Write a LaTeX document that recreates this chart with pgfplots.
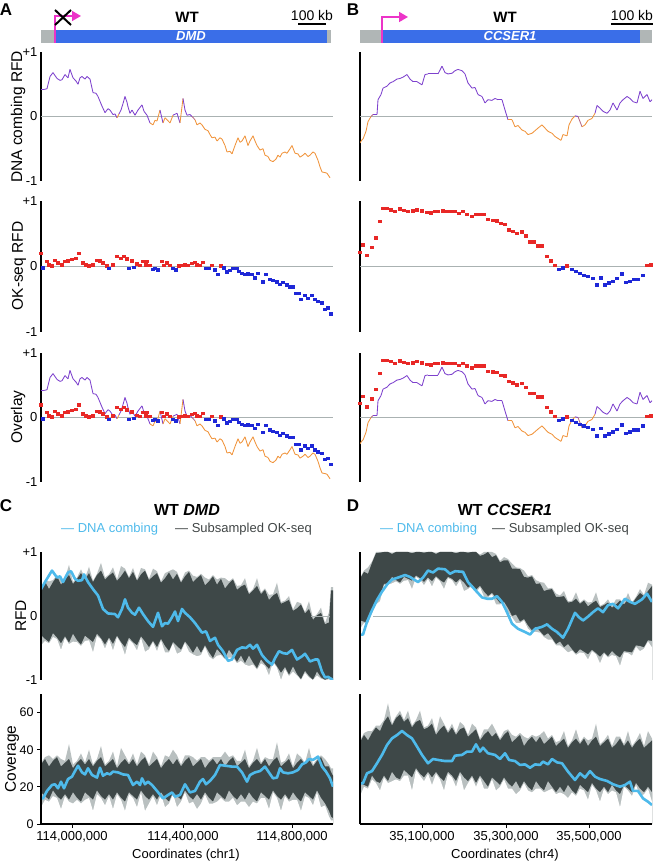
\documentclass[border=0pt]{standalone}
\usepackage{fontspec}
\setmainfont{Liberation Sans}
\usepackage{pgfplots}
\pgfplotsset{compat=1.18}
\usepackage{pgfplotstable}
\usetikzlibrary{arrows.meta}
\newcommand{\fs}[1]{\fontsize{#1}{#1}\selectfont}
\definecolor{cpurple}{RGB}{125,65,205}
\definecolor{corange}{RGB}{240,148,60}
\definecolor{cred}{RGB}{232,40,38}
\definecolor{cblue}{RGB}{30,40,215}
\definecolor{genblue}{RGB}{58,110,232}
\definecolor{gengray}{RGB}{176,182,182}
\definecolor{cmag}{RGB}{236,52,200}
\definecolor{ccyan}{RGB}{78,186,235}
\definecolor{bandcore}{RGB}{62,72,72}
\definecolor{bandfringe}{RGB}{185,192,192}
\definecolor{zerogray}{RGB}{170,178,178}
\definecolor{leggray}{RGB}{65,70,70}
\pgfplotsset{colormap={rfdmap}{color(0cm)=(corange) color(1cm)=(corange) color(1.02cm)=(cpurple) color(2.02cm)=(cpurple)}}

% DNA combing RFD, DMD (x = position along the locus)
\pgfplotstableread{
x y
41 0.42
44 0.42
47 0.43
50 0.62
53 0.68
57 0.59
60 0.56
62 0.57
65 0.65
68 0.60
70 0.73
73 0.60
76 0.55
78 0.50
80 0.60
82 0.62
85 0.58
87 0.62
90 0.58
93 0.37
96 0.36
98 0.31
102 0.16
105 0.06
108 0.12
110 0.10
113 0.03
115 0.04
117 -0.02
119 0.04
121 0.10
123 0.20
125 0.31
127 0.22
128 0.15
130 0.05
132 0.10
135 0.02
138 0.10
140 0.14
142 0.18
144 0.08
147 0.02
150 -0.10
153 -0.13
155 -0.06
157 -0.07
160 0.10
163 -0.10
165 -0.02
167 -0.05
170 -0.10
173 0.02
177 0.05
180 -0.10
183 0.28
185 0.10
187 0.02
190 0.03
192 0.00
195 -0.05
197 -0.13
200 -0.10
202 -0.13
205 -0.20
208 -0.22
210 -0.28
212 -0.33
215 -0.32
217 -0.38
220 -0.33
222 -0.35
225 -0.45
227 -0.55
230 -0.54
232 -0.58
235 -0.45
238 -0.33
240 -0.40
242 -0.38
245 -0.30
248 -0.45
250 -0.38
253 -0.30
255 -0.38
257 -0.45
260 -0.52
263 -0.50
265 -0.60
268 -0.62
270 -0.68
273 -0.70
276 -0.66
278 -0.60
280 -0.63
282 -0.57
285 -0.55
287 -0.57
290 -0.50
292 -0.45
295 -0.57
298 -0.58
300 -0.63
303 -0.60
305 -0.57
308 -0.62
310 -0.60
313 -0.55
315 -0.57
318 -0.68
320 -0.78
322 -0.86
325 -0.87
327 -0.88
330 -0.95
}\combA

% OK-seq RFD, DMD
\pgfplotstableread{
x y
41 0.20
43 -0.02
47 0.08
49 0.03
52 0.01
55 0.10
58 0.06
62 0.03
65 0.08
68 0.09
72 0.11
76 0.13
79 0.20
83 0.06
86 0.03
89 0.01
93 0.03
97 0.10
100 0.09
103 0.06
107 0.01
109 -0.03
113 0.03
117 0.16
121 0.13
124 0.16
127 0.12
129 -0.03
132 0.09
134 -0.01
137 0.04
140 0.02
143 0.08
146 0.03
147 0.08
150 0.02
153 -0.04
155 -0.03
158 -0.05
162 0.08
164 0.02
167 0.06
170 0.02
173 -0.03
176 -0.05
179 0.01
182 0.02
185 0.03
188 0.02
192 0.05
195 0.07
197 0.03
200 0.02
203 0.07
206 -0.03
209 -0.03
212 0.02
215 -0.05
218 -0.12
221 0.01
224 -0.02
227 -0.08
230 -0.06
233 -0.03
237 -0.03
239 -0.07
242 -0.10
245 -0.12
248 -0.11
252 -0.12
255 -0.17
258 -0.10
263 -0.23
266 -0.12
270 -0.19
273 -0.21
277 -0.23
280 -0.27
283 -0.24
287 -0.28
290 -0.31
293 -0.31
296 -0.41
299 -0.41
301 -0.50
305 -0.44
308 -0.48
312 -0.44
315 -0.50
318 -0.53
322 -0.55
325 -0.65
328 -0.63
331 -0.72
}\okA

% DNA combing RFD, CCSER1
\pgfplotstableread{
x y
360 -0.41
362 -0.36
363 -0.35
366 -0.23
368 -0.08
371 0.00
373 0.03
377 0.03
378 0.26
381 0.34
383 0.44
387 0.47
390 0.52
393 0.54
397 0.58
400 0.59
403 0.61
407 0.65
410 0.58
413 0.54
417 0.54
422 0.49
425 0.65
428 0.66
433 0.66
438 0.66
442 0.78
445 0.68
448 0.66
452 0.67
455 0.71
458 0.73
462 0.71
465 0.66
468 0.52
472 0.44
475 0.45
478 0.34
482 0.31
485 0.21
488 0.26
492 0.25
495 0.28
498 0.26
502 0.26
505 0.10
508 -0.05
512 -0.05
515 -0.16
518 -0.14
522 -0.21
525 -0.23
528 -0.28
532 -0.26
535 -0.22
538 -0.18
542 -0.13
545 -0.18
548 -0.23
552 -0.26
555 -0.31
558 -0.34
561 -0.37
563 -0.28
567 -0.30
569 -0.13
572 -0.04
575 0.01
578 0.00
582 -0.16
585 -0.13
588 -0.06
592 -0.03
595 0.05
597 0.17
600 0.13
603 0.08
607 0.05
610 0.10
613 0.21
617 0.10
620 0.21
623 0.26
627 0.31
630 0.28
633 0.23
637 0.21
640 0.39
643 0.28
647 0.34
650 0.23
652 0.26
}\combB

% OK-seq RFD, CCSER1
\pgfplotstableread{
x y
360 0.22
363 0.33
367 0.17
372 0.29
376 0.44
380 0.69
383 0.89
387 0.89
391 0.87
395 0.84
400 0.88
404 0.86
408 0.84
413 0.85
417 0.87
422 0.85
427 0.83
431 0.82
435 0.84
438 0.84
443 0.85
447 0.84
451 0.84
455 0.84
459 0.81
463 0.84
467 0.80
472 0.77
476 0.80
480 0.80
484 0.80
488 0.72
493 0.71
497 0.70
501 0.66
505 0.65
509 0.56
513 0.54
517 0.51
522 0.53
526 0.47
530 0.38
534 0.38
538 0.32
542 0.32
547 0.16
551 0.09
555 0.02
559 -0.04
563 -0.02
567 0.01
572 -0.04
576 -0.07
580 -0.10
584 -0.13
588 -0.15
593 -0.18
597 -0.28
601 -0.17
605 -0.28
609 -0.25
613 -0.22
617 -0.18
622 -0.11
626 -0.24
630 -0.22
634 -0.19
638 -0.19
643 -0.13
647 0.02
651 0.03
}\okB

% C: DNA combing RFD (smoothed)
\pgfplotstableread{
x y
41 0.42
45 0.53
52 0.71
57 0.60
60 0.62
63 0.53
68 0.68
71 0.70
75 0.58
78 0.55
82 0.56
84 0.65
88 0.53
93 0.42
98 0.32
103 0.11
108 0.04
115 0.03
118 -0.02
122 0.11
125 0.26
128 0.13
132 0.05
135 0.02
139 0.13
143 0.03
148 -0.08
153 -0.17
158 0.05
162 -0.16
165 -0.11
168 -0.12
172 -0.02
175 0.07
178 -0.08
182 0.11
185 0.05
190 -0.02
195 -0.11
202 -0.26
206 -0.24
210 -0.39
215 -0.34
218 -0.45
223 -0.55
228 -0.70
232 -0.68
237 -0.53
242 -0.49
246 -0.50
250 -0.45
253 -0.51
257 -0.45
262 -0.61
267 -0.70
272 -0.76
275 -0.66
279 -0.55
283 -0.58
287 -0.59
292 -0.53
297 -0.68
302 -0.63
305 -0.59
310 -0.71
315 -0.68
318 -0.68
322 -0.87
325 -0.96
328 -0.95
333 -1.00
}\cR

% C: subsampled OK-seq RFD envelope (fringe/core upper, core/fringe lower)
\pgfplotstableread{
x fu cu cl fl
41 -1 -1 -1 -1
41 .44 .42 -.30 -.46
45 .56 .54 -.36 -.39
49 .54 .42 -.41 -.43
53 .56 .53 -.27 -.33
57 .64 .62 -.34 -.36
61 .57 .49 -.43 -.53
65 .59 .57 -.32 -.34
69 .80 .64 -.42 -.44
73 .53 .50 -.28 -.40
77 .60 .58 -.38 -.41
81 .73 .67 -.45 -.47
85 .59 .57 -.31 -.39
89 .77 .67 -.36 -.38
93 .55 .53 -.41 -.57
97 .66 .64 -.28 -.31
101 .83 .71 -.35 -.37
105 .60 .57 -.45 -.51
109 .65 .63 -.34 -.36
113 .76 .68 -.44 -.54
117 .57 .55 -.31 -.33
121 .78 .62 -.41 -.43
125 .74 .71 -.49 -.61
129 .61 .59 -.34 -.37
133 .75 .69 -.41 -.43
137 .57 .55 -.46 -.54
141 .75 .65 -.32 -.34
145 .73 .71 -.40 -.56
149 .58 .56 -.49 -.52
153 .74 .62 -.39 -.41
157 .70 .67 -.49 -.55
161 .54 .52 -.36 -.38
165 .67 .59 -.47 -.57
169 .70 .68 -.55 -.57
173 .73 .57 -.41 -.43
177 .69 .66 -.47 -.59
181 .54 .52 -.53 -.56
185 .68 .62 -.40 -.42
189 .71 .69 -.48 -.56
193 .63 .53 -.58 -.60
197 .61 .59 -.47 -.63
201 .66 .64 -.58 -.61
205 .60 .48 -.46 -.48
209 .57 .54 -.57 -.63
213 .64 .62 -.66 -.68
217 .57 .49 -.52 -.62
221 .60 .58 -.59 -.61
225 .59 .43 -.66 -.68
229 .54 .51 -.53 -.65
233 .59 .57 -.62 -.65
237 .47 .41 -.72 -.74
241 .48 .46 -.62 -.70
245 .59 .49 -.74 -.76
249 .36 .34 -.62 -.78
253 .42 .40 -.73 -.76
257 .59 .47 -.82 -.84
261 .37 .34 -.68 -.74
265 .43 .41 -.76 -.78
269 .33 .25 -.83 -.93
273 .34 .32 -.70 -.72
277 .52 .36 -.79 -.81
281 .22 .19 -.89 -1.00
285 .24 .22 -.80 -.83
289 .31 .25 -.92 -.94
293 .10 .08 -.79 -.87
297 .22 .12 -.91 -.93
301 .20 .18 -.99 -1.00
305 .06 .04 -.86 -.89
309 .23 .11 -.94 -.96
313 -.03 -.06 -1.00 -1.00
317 .03 .01 -.87 -.93
321 .13 .05 -.96 -.98
325 -.11 -.13 -1.00 -1.00
329 .06 -.10 -.97 -.99
331 .45 .40 -1.00 -1.00
333 .45 .40 -1.00 -1.00
333 -1 -1 -1 -1
}\bandCR

% C: DNA combing coverage
\pgfplotstableread{
x y
41 13.8
43 13.8
47 17.8
52 21.0
55 21.4
58 19.2
61 22.8
64 19.2
68 24.2
72 25.5
75 28.5
78 31.4
82 27.8
85 26.7
88 30.0
92 26.4
97 25.0
100 30.3
103 26.0
107 27.3
110 26.7
113 28.2
118 27.8
123 26.7
128 26.4
133 21.0
137 22.8
140 21.0
142 24.6
145 21.4
148 22.8
152 21.0
157 17.8
163 13.8
168 15.6
172 17.0
175 14.7
180 15.6
185 21.4
190 17.0
195 17.8
200 22.8
203 24.2
206 21.4
210 23.2
215 26.4
220 31.8
225 31.4
232 30.9
237 30.9
242 27.8
247 22.8
250 26.4
255 27.8
260 28.5
265 30.9
268 28.5
273 24.6
277 25.0
280 30.0
283 27.8
288 27.3
293 27.8
298 29.1
302 32.1
306 33.2
309 35.0
313 34.5
318 36.3
322 30.9
326 28.2
330 24.6
333 20.1
}\cC

% C: subsampled OK-seq coverage envelope
\pgfplotstableread{
x fu cu cl fl
41 0 0 0 0
41 33 32 17 9
45 36 35 15 13
49 37 31 13 12
53 35 34 18 15
57 37 36 15 14
61 35 31 13 8
65 34 33 16 15
69 43 35 13 12
73 32 30 17 11
77 34 33 14 13
81 38 35 12 11
85 33 32 17 13
89 40 35 15 14
93 32 31 13 7
97 35 34 18 16
101 42 36 15 14
105 32 31 13 10
109 34 33 16 15
113 39 35 13 8
117 31 30 17 16
121 41 33 14 13
125 37 35 12 7
129 33 32 17 16
133 38 35 15 14
137 32 31 13 9
141 39 34 18 17
145 37 36 15 7
149 32 31 13 11
153 39 33 16 15
157 36 35 13 10
161 31 30 17 16
165 37 33 14 9
169 36 35 12 11
173 40 32 17 16
177 37 35 15 9
181 32 31 13 12
185 37 34 18 17
189 37 36 15 11
193 36 31 13 12
197 34 33 16 8
201 36 35 13 11
205 36 30 17 16
209 34 33 14 11
213 36 35 12 11
217 36 32 17 12
221 36 35 15 14
225 39 31 13 12
229 36 34 18 12
233 37 36 15 14
237 34 31 13 10
241 34 33 16 12
245 40 35 13 12
249 31 30 17 9
253 34 33 14 12
257 41 35 12 11
261 33 32 17 14
265 36 35 15 14
269 35 31 13 8
273 35 34 18 17
277 44 36 15 14
281 33 31 13 7
285 34 33 16 15
289 38 35 13 12
293 31 30 17 13
297 38 33 14 13
301 36 35 12 7
305 33 32 17 15
309 41 35 15 14
313 32 31 13 10
317 35 34 18 17
321 37 36 14 9
325 35 31 11 10
329 32 31 7 4
331 30 28 4 2
333 30 26 3 2
333 0 0 0 0
}\bandCC

% D: DNA combing RFD (smoothed)
\pgfplotstableread{
x y
360 -0.29
363 -0.29
367 -0.09
372 0.09
377 0.25
382 0.38
387 0.49
392 0.57
398 0.60
405 0.64
410 0.61
415 0.56
418 0.53
423 0.60
428 0.71
433 0.68
438 0.74
445 0.73
450 0.66
455 0.70
463 0.69
468 0.53
475 0.41
482 0.29
487 0.27
492 0.27
497 0.31
502 0.22
507 0.06
512 -0.12
518 -0.20
525 -0.25
530 -0.29
535 -0.20
542 -0.17
547 -0.13
552 -0.20
557 -0.25
563 -0.34
568 -0.20
575 0.05
579 -0.02
583 -0.07
588 -0.01
593 0.06
598 0.12
603 0.06
608 0.17
613 0.19
618 0.12
625 0.27
630 0.22
635 0.19
642 0.26
647 0.35
652 0.22
}\dR

% D: subsampled OK-seq RFD envelope
\pgfplotstableread{
x fu cu cl fl
360 -1 -1 -1 -1
360 .60 .58 -.07 -.20
364 .71 .69 -.09 -.11
368 .76 .66 -.10 -.12
372 .85 .83 .09 .04
376 1 .98 .20 .18
380 1 .99 .31 .23
384 1 1 .50 .48
388 1 1 .51 .49
392 .99 .97 .61 .51
396 1 1 .56 .54
400 1 1 .52 .50
404 1 1 .61 .55
408 1 1 .58 .56
412 1 .98 .55 .42
416 1 1 .63 .61
420 1 1 .59 .57
424 1 .99 .53 .48
428 1 1 .60 .58
432 1 1 .54 .46
436 .99 .97 .62 .60
440 1 1 .56 .54
444 1 1 .52 .42
448 1 1 .61 .59
452 1 1 .58 .56
456 1 .98 .52 .46
460 1 1 .58 .56
464 1 1 .52 .39
468 1 .99 .44 .42
472 1 1 .49 .47
476 1 1 .41 .36
480 .96 .94 .47 .45
484 1 .96 .38 .30
488 1 1 .31 .29
492 1 .92 .36 .34
496 .97 .95 .28 .18
500 .86 .84 .20 .18
504 .92 .87 .22 .20
508 .89 .87 .12 .06
512 .82 .74 .00 -.02
516 .76 .74 .02 -.11
520 .75 .73 -.09 -.11
524 .71 .61 -.05 -.07
528 .62 .60 -.15 -.20
532 .64 .62 -.23 -.25
536 .56 .50 -.17 -.25
540 .53 .51 -.24 -.26
544 .52 .39 -.31 -.33
548 .43 .41 -.27 -.37
552 .44 .42 -.35 -.37
556 .35 .30 -.44 -.46
560 .32 .30 -.40 -.46
564 .39 .31 -.49 -.51
568 .23 .21 -.44 -.57
572 .24 .22 -.52 -.54
576 .37 .27 -.59 -.61
580 .21 .19 -.52 -.57
584 .26 .24 -.56 -.58
588 .21 .15 -.60 -.68
592 .22 .20 -.53 -.55
596 .37 .24 -.58 -.60
600 .16 .14 -.64 -.74
604 .19 .17 -.57 -.59
608 .26 .21 -.63 -.65
612 .15 .13 -.55 -.61
616 .26 .18 -.61 -.63
620 .26 .24 -.65 -.78
624 .20 .18 -.55 -.57
628 .36 .26 -.56 -.58
632 .21 .19 -.57 -.62
636 .30 .28 -.46 -.48
640 .42 .36 -.47 -.55
644 .33 .31 -.49 -.51
648 .52 .39 -.38 -.40
652 .49 .47 -.39 -.49
652 -1 -1 -1 -1
}\bandDR

% D: DNA combing coverage
\pgfplotstableread{
x y
360 21.9
363 21.9
367 27.3
372 28.5
377 32.7
382 37.2
387 42.5
392 46.1
397 47.9
402 50.1
407 47.9
412 46.1
417 41.7
422 37.2
428 32.7
433 35.0
438 34.5
445 33.9
452 33.9
455 36.8
462 37.2
467 39.0
472 39.0
476 42.9
480 39.0
483 41.1
488 38.1
495 37.2
500 35.0
505 38.1
509 34.5
515 33.9
520 31.8
525 32.1
530 30.3
535 32.1
540 31.8
543 33.6
548 32.1
552 35.0
557 33.2
562 32.7
568 28.2
575 23.7
580 27.3
585 25.0
590 28.5
595 25.5
600 24.2
607 23.2
613 21.4
620 20.1
625 21.0
630 22.8
633 17.8
638 17.8
643 13.8
648 12.0
652 10.2
}\dC

% D: subsampled OK-seq coverage envelope
\pgfplotstableread{
x fu cu cl fl
360 0 0 0 0
360 45 44 22 15
364 49 48 21 20
368 50 45 20 19
372 50 49 26 24
376 53 52 23 22
380 53 50 22 18
384 56 55 26 25
388 65 58 23 22
392 54 53 28 23
396 58 57 25 24
400 61 59 24 23
404 56 55 29 26
408 61 57 27 26
412 53 52 25 18
416 56 55 30 29
420 61 56 27 26
424 52 51 25 23
428 53 52 28 27
432 57 54 25 21
436 49 48 28 27
440 58 51 25 24
444 54 53 23 18
448 50 49 28 27
452 54 52 26 25
456 49 48 23 20
460 55 51 28 27
464 53 52 25 18
468 48 47 23 22
472 54 49 26 25
476 52 51 22 20
480 46 45 26 25
484 51 48 23 19
488 51 50 20 19
492 54 47 25 24
496 50 49 23 18
500 46 45 21 20
504 50 48 25 24
508 51 50 22 19
512 48 44 20 19
516 47 46 23 16
520 49 48 19 18
524 47 42 23 22
528 46 45 20 18
532 48 47 18 17
536 47 44 23 19
540 48 47 20 19
544 50 43 18 17
548 46 45 23 18
552 48 47 20 19
556 44 42 17 16
560 45 44 20 17
564 50 46 17 16
568 42 41 21 14
572 45 44 18 17
576 51 46 16 15
580 44 43 21 19
584 47 46 19 18
588 45 42 17 13
592 46 45 22 21
596 54 47 19 18
600 43 42 17 12
604 45 44 20 19
608 48 46 17 16
612 42 41 21 18
616 47 43 18 17
620 47 46 16 9
624 43 42 21 20
628 50 45 19 18
632 42 41 17 15
636 45 44 22 21
640 49 46 19 15
644 42 41 17 16
648 50 43 20 19
652 46 45 17 12
652 0 0 0 0
}\bandDC

\pgfplotsset{
  every axis/.append style={scale only axis, clip=true,
    tick label style={font=\fs{13}},
    /pgf/number format/assume math mode=true,
    axis line style={line width=1.3pt, black},
    tick style={black, line width=1pt}},
  rfdax/.style={height=#1, ymin=-1, ymax=1, axis x line=none, axis y line*=left,
    colormap name=rfdmap, point meta min=-1, point meta max=1},
  colA/.style={width=292pt, xmin=41, xmax=333},
  colB/.style={width=292pt, xmin=360, xmax=652},
  labA/.style={ytick={-1,0,1}, yticklabels={-1,0,+1}, major tick length=0pt},
  labB/.style={ytick=\empty},
  comb/.style={mesh, shader=flat corner, point meta=y, line width=0.85pt},
  okm/.style={only marks, mark=square*, mark size=1.2pt, mark options={xscale=1.35}, unbounded coords=discard},
  band/.style={draw=none, fill=#1},
}

\begin{document}
\begin{tikzpicture}[x=1pt,y=1pt]
\useasboundingbox (0,0) rectangle (654,864);

% ---------- gene tracks ----------
\fill[gengray] (41,821) rectangle (331,834);
\fill[genblue] (55,821) rectangle (327,834);
\node[text=white, font=\fs{13}\bfseries\itshape] at (191,827.5) {DMD};
\draw[cmag, line width=1.6pt, -{Triangle[length=9pt,width=10pt]}] (55,821) -- (55,848) -- (81,848);
\draw[black, line width=2pt] (55,839) -- (71,854) (55,854) -- (71,839);
\node[font=\fs{15}\bfseries] at (187,847) {WT};
\node[font=\fs{14}] at (312,848) {100 kb};
\draw[line width=1.4pt] (298,840) -- (326,840);

\fill[gengray] (360,821) rectangle (652,834);
\fill[genblue] (383,821) rectangle (640,834);
\node[text=white, font=\fs{13}\bfseries\itshape] at (510,827.5) {CCSER1};
\draw[cmag, line width=1.6pt, -{Triangle[length=9pt,width=10pt]}] (382,821) -- (382,847) -- (408,847);
\node[font=\fs{15}\bfseries] at (505,847) {WT};
\node[font=\fs{14}] at (632,848) {100 kb};
\draw[line width=1.4pt] (611,840) -- (653,840);

% panel letters
\node[font=\fs{17}\bfseries] at (6,854) {A};
\node[font=\fs{17}\bfseries] at (353,854) {B};
\node[font=\fs{17}\bfseries] at (6,358) {C};
\node[font=\fs{17}\bfseries] at (353,358) {D};

% y labels
\node[rotate=90, anchor=base, font=\fs{15.5}] at (22,747) {DNA combing RFD};
\node[rotate=90, anchor=base, font=\fs{15.5}] at (23,598) {OK-seq RFD};
\node[rotate=90, anchor=base, font=\fs{15.5}] at (22,447) {Overlay};
\node[rotate=90, anchor=base, font=\fs{15.5}] at (26,248) {RFD};
\node[rotate=90, anchor=base, font=\fs{15.5}] at (16,105) {Coverage};

% ---------- A ----------
\begin{axis}[rfdax=129pt, colA, labA, at={(41pt,683pt)}, anchor=south west]
\addplot[zerogray, line width=0.9pt] coordinates {(41,0) (333,0)};
\addplot[comb] table[x=x,y=y] {\combA};
\end{axis}
\begin{axis}[rfdax=131pt, colA, labA, at={(41pt,532pt)}, anchor=south west]
\addplot[zerogray, line width=0.9pt] coordinates {(41,0) (333,0)};
\addplot[cred, okm, restrict y to domain=0:1] table[x=x,y=y] {\okA};
\addplot[cblue, okm, restrict y to domain=-1:-0.001] table[x=x,y=y] {\okA};
\end{axis}
\begin{axis}[rfdax=129pt, colA, labA, at={(41pt,382pt)}, anchor=south west]
\addplot[zerogray, line width=0.9pt] coordinates {(41,0) (333,0)};
\addplot[comb] table[x=x,y=y] {\combA};
\addplot[cred, okm, restrict y to domain=0:1] table[x=x,y=y] {\okA};
\addplot[cblue, okm, restrict y to domain=-1:-0.001] table[x=x,y=y] {\okA};
\end{axis}

% ---------- B ----------
\begin{axis}[rfdax=129pt, colB, labB, at={(360pt,683pt)}, anchor=south west]
\addplot[zerogray, line width=0.9pt] coordinates {(360,0) (652,0)};
\addplot[comb] table[x=x,y=y] {\combB};
\end{axis}
\begin{axis}[rfdax=131pt, colB, labB, at={(360pt,532pt)}, anchor=south west]
\addplot[zerogray, line width=0.9pt] coordinates {(360,0) (652,0)};
\addplot[cred, okm, restrict y to domain=0:1] table[x=x,y=y] {\okB};
\addplot[cblue, okm, restrict y to domain=-1:-0.001] table[x=x,y=y] {\okB};
\end{axis}
\begin{axis}[rfdax=129pt, colB, labB, at={(360pt,382pt)}, anchor=south west]
\addplot[zerogray, line width=0.9pt] coordinates {(360,0) (652,0)};
\addplot[comb] table[x=x,y=y] {\combB};
\addplot[cred, okm, restrict y to domain=0:1] table[x=x,y=y] {\okB};
\addplot[cblue, okm, restrict y to domain=-1:-0.001] table[x=x,y=y] {\okB};
\end{axis}

% ---------- C ----------
\node[font=\fs{16}\bfseries] at (187,354) {WT \textit{DMD}};
\node[anchor=west, inner sep=0, font=\fs{13}, text=ccyan] at (61,335) {\textemdash\ DNA combing};
\node[anchor=west, inner sep=0, font=\fs{13}, text=leggray] at (175,335) {\textemdash\ Subsampled OK-seq};
\begin{axis}[rfdax=128pt, colA, labA, axis on top, at={(41pt,184pt)}, anchor=south west]
\addplot[band=bandfringe] table[x=x,y=fu] {\bandCR} -- cycle;
\addplot[band=bandcore] table[x=x,y=cu] {\bandCR} -- cycle;
\addplot[band=bandfringe] table[x=x,y=cl] {\bandCR} -- cycle;
\addplot[band=white] table[x=x,y=fl] {\bandCR} -- cycle;
\addplot[zerogray, line width=0.9pt] coordinates {(311,0) (330,0)};
\addplot[ccyan, line width=2.6pt, line join=round] table[x=x,y=y] {\cR};
\end{axis}
\begin{axis}[width=292pt, height=130pt, xmin=41, xmax=333, ymin=0, ymax=70,
  axis x line*=bottom, axis y line*=left, axis on top,
  xtick={72,183,292}, xticklabels={{114,000,000},{114,400,000},{114,800,000}},
  ytick={0,20,40,60}, yticklabels={0,20,40,60},
  yticklabel style={font=\fs{12.5}},
  tick align=outside, major tick length=4pt,
  at={(41pt,40pt)}, anchor=south west]
\addplot[band=bandfringe] table[x=x,y=fu] {\bandCC} -- cycle;
\addplot[band=bandcore] table[x=x,y=cu] {\bandCC} -- cycle;
\addplot[band=bandfringe] table[x=x,y=cl] {\bandCC} -- cycle;
\addplot[band=white] table[x=x,y=fl] {\bandCC} -- cycle;
\addplot[ccyan, line width=2.6pt, line join=round] table[x=x,y=y] {\cC};
\end{axis}
\node[font=\fs{13}] at (186,9) {Coordinates (chr1)};

% ---------- D ----------
\node[font=\fs{16}\bfseries] at (505,354) {WT \textit{CCSER1}};
\node[anchor=west, inner sep=0, font=\fs{13}, text=ccyan] at (380,335) {\textemdash\ DNA combing};
\node[anchor=west, inner sep=0, font=\fs{13}, text=leggray] at (492,335) {\textemdash\ Subsampled OK-seq};
\begin{axis}[rfdax=128pt, colB, labB, axis on top, at={(360pt,184pt)}, anchor=south west]
\addplot[band=bandfringe] table[x=x,y=fu] {\bandDR} -- cycle;
\addplot[band=bandcore] table[x=x,y=cu] {\bandDR} -- cycle;
\addplot[band=bandfringe] table[x=x,y=cl] {\bandDR} -- cycle;
\addplot[band=white] table[x=x,y=fl] {\bandDR} -- cycle;
\addplot[zerogray, line width=0.9pt] coordinates {(373,0) (511,0)};
\addplot[ccyan, line width=2.6pt, line join=round] table[x=x,y=y] {\dR};
\end{axis}
\begin{axis}[width=292pt, height=130pt, xmin=360, xmax=652, ymin=0, ymax=70,
  axis x line*=bottom, axis y line*=left, axis on top,
  xtick={422,506,589}, xticklabels={{35,100,000},{35,300,000},{35,500,000}},
  ytick={0,20,40,60}, yticklabels={,,,}, ytick style={draw=none},
  tick align=outside, major tick length=4pt,
  at={(360pt,40pt)}, anchor=south west]
\addplot[band=bandfringe] table[x=x,y=fu] {\bandDC} -- cycle;
\addplot[band=bandcore] table[x=x,y=cu] {\bandDC} -- cycle;
\addplot[band=bandfringe] table[x=x,y=cl] {\bandDC} -- cycle;
\addplot[band=white] table[x=x,y=fl] {\bandDC} -- cycle;
\addplot[ccyan, line width=2.6pt, line join=round] table[x=x,y=y] {\dC};
\end{axis}
\node[font=\fs{13}] at (505,9) {Coordinates (chr4)};
\end{tikzpicture}
\end{document}
